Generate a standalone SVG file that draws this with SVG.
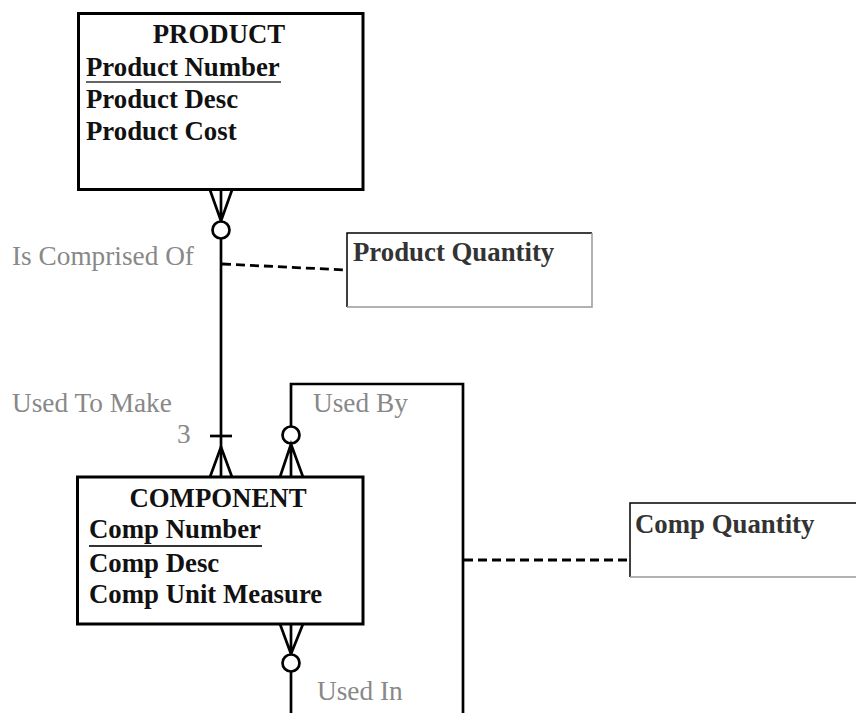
<svg xmlns="http://www.w3.org/2000/svg" width="856" height="713" viewBox="0 0 856 713">
<style>
.ent{fill:#fff;stroke:#000;stroke-width:3}
.t{font-family:"Liberation Serif","Times New Roman",serif;font-size:26.8px;font-weight:bold;fill:#111}
.lbl{font-family:"Liberation Serif","Times New Roman",serif;font-size:27.3px;fill:#888}
.ln{fill:none;stroke:#000;stroke-width:2.7}
.dash{fill:none;stroke:#000;stroke-width:2.8;stroke-dasharray:9 5}
.circ{fill:#fff;stroke:#000;stroke-width:2.7}
</style>
<rect width="856" height="713" fill="#fff"/>
<g id="connectors">
  <!-- PRODUCT - COMPONENT -->
  <path class="ln" d="M221,239 V477"/>
  <path class="ln" d="M210,190 L221,221 L232,190 M221,190 V221"/>
  <circle class="circ" cx="221" cy="230" r="8.5"/>
  <path class="ln" d="M210,436 H232"/>
  <path class="ln" d="M210,477 L221,447 L232,477"/>
  <!-- recursive -->
  <path class="ln" d="M291,426 V384 H463 V713"/>
  <circle class="circ" cx="291" cy="435" r="8.5"/>
  <path class="ln" d="M280,477 L291,444 L303,477 M291,444 V477"/>
  <path class="ln" d="M280,624 L291,654 L303,624 M291,624 V654"/>
  <circle class="circ" cx="291" cy="663" r="8.5"/>
  <path class="ln" d="M291,672 V713"/>
  <!-- associative dashed -->
  <path class="dash" d="M222,264 L347,270"/>
  <path class="dash" d="M464,560 H630"/>
</g>
<g id="product">
  <rect class="ent" x="78.5" y="13.5" width="284.5" height="176"/>
  <text class="t" x="219" y="43" text-anchor="middle">PRODUCT</text>
  <text class="t" x="86" y="76">Product Number</text>
  <line x1="86" y1="82" x2="281" y2="82" stroke="#666" stroke-width="2"/>
  <text class="t" x="86" y="108">Product Desc</text>
  <text class="t" x="86" y="140">Product Cost</text>
</g>
<g id="component">
  <rect class="ent" x="77.5" y="477" width="285.5" height="147" stroke-width="2.5"/>
  <text class="t" x="218" y="507" text-anchor="middle">COMPONENT</text>
  <text class="t" x="89" y="538">Comp Number</text>
  <line x1="89" y1="546" x2="262" y2="546" stroke="#333" stroke-width="2"/>
  <text class="t" x="89" y="572">Comp Desc</text>
  <text class="t" x="89" y="603">Comp Unit Measure</text>
</g>
<g id="product-quantity">
  <path d="M347,307 V233 H592" fill="none" stroke="#000" stroke-width="1.5"/>
  <path d="M592,233 V307 H347" fill="none" stroke="#999" stroke-width="1.5"/>
  <text class="t" x="353" y="261" style="fill:#333">Product Quantity</text>
</g>
<g id="comp-quantity">
  <path d="M630,577 V503 H860" fill="none" stroke="#000" stroke-width="1.5"/>
  <path d="M630,577 H860" fill="none" stroke="#999" stroke-width="1.5"/>
  <text class="t" style="fill:#333" x="635" y="533">Comp Quantity</text>
</g>
<g id="labels">
  <text class="lbl" x="12" y="265">Is Comprised Of</text>
  <text class="lbl" x="12" y="412">Used To Make</text>
  <text class="lbl" x="177" y="443">3</text>
  <text class="lbl" x="313" y="412">Used By</text>
  <text class="lbl" x="317" y="700">Used In</text>
</g>
</svg>
